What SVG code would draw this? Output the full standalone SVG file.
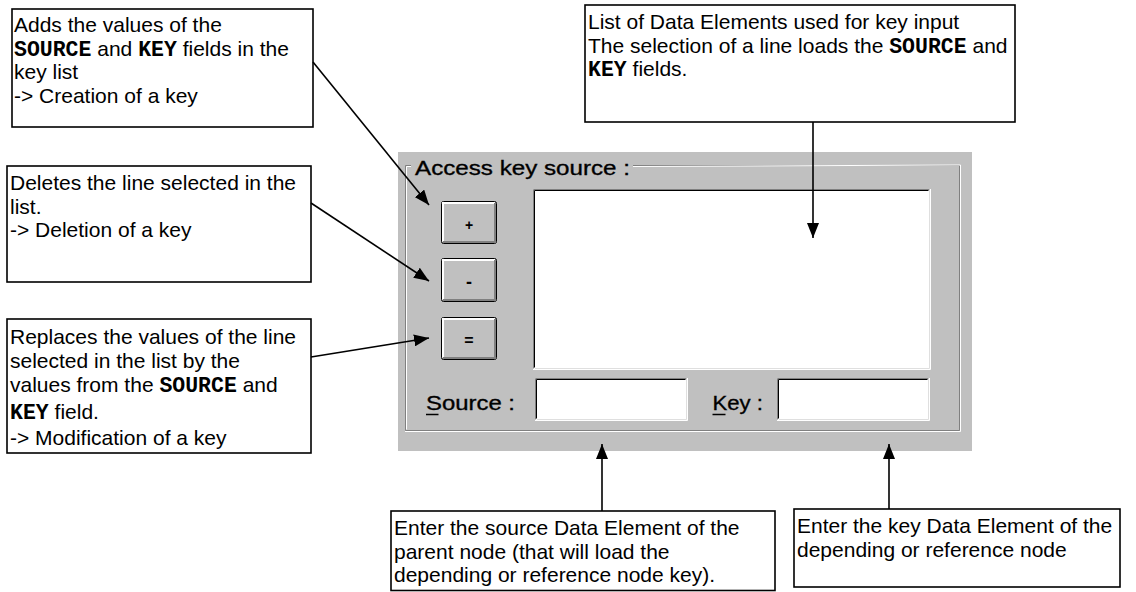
<svg xmlns="http://www.w3.org/2000/svg" width="1136" height="592" viewBox="0 0 1136 592">
  <style>
    .box { fill: #ffffff; stroke: #000000; stroke-width: 1.6; }
    .t { font-family: "Liberation Sans", Arial, sans-serif; font-size: 21px; fill: #000000; }
    .m { font-family: "Liberation Mono", "Courier New", monospace; font-weight: bold; font-size: 21.5px; }
    .ui { font-family: "Liberation Sans", Arial, sans-serif; font-size: 21px; fill: #000000; stroke: #000000; stroke-width: 0.35; }
    .btn-label { font-family: "Liberation Sans", Arial, sans-serif; font-weight: bold; fill: #000000; text-anchor: middle; }
    .conn { stroke: #000000; stroke-width: 1.6; fill: none; marker-end: url(#arrow); }
    .dk { stroke: #808080; fill: none; }
    .bk { stroke: #000000; fill: none; }
    .wt { stroke: #ffffff; fill: none; }
    .lt { stroke: #dfdfdf; fill: none; }
  </style>
  <defs>
    <marker id="arrow" markerUnits="userSpaceOnUse" markerWidth="16" markerHeight="12" refX="15" refY="6" orient="auto">
      <path d="M0,0 L15,6 L0,12 z" fill="#000000"/>
    </marker>
  </defs>

  <rect width="1136" height="592" fill="#ffffff"/>

  <!-- Dialog panel -->
  <g id="panel">
    <rect x="398" y="152" width="574" height="299" fill="#c0c0c0"/>
    <!-- etched group frame, broken under the caption -->
    <polyline class="dk" points="411,165.5 405.5,165.5 405.5,430.5 959.5,430.5 959.5,165.5 633,165.5"/>
    <polyline class="wt" points="411,166.5 406.5,166.5 406.5,429.5"/>
    <polyline class="wt" points="405,431.5 960.5,431.5 960.5,165 633,166.5"/>
    <text class="ui" x="415" y="175" textLength="215" lengthAdjust="spacingAndGlyphs">Access key source :</text>

    <!-- list box -->
    <g id="listbox">
      <rect x="533" y="189" width="397" height="180" fill="#ffffff"/>
      <polyline class="dk" points="533.5,368.5 533.5,189.5 929.5,189.5"/>
      <polyline class="bk" points="534.5,367.5 534.5,190.5 928.5,190.5"/>
      <polyline class="wt" points="533,369.5 930.5,369.5 930.5,189"/>
      <polyline class="lt" points="535,368.5 929.5,368.5 929.5,190"/>
    </g>

    <!-- buttons -->
    <g id="btn-add">
      <rect x="441.5" y="201.5" width="55" height="42" rx="2" fill="#c0c0c0" stroke="#000000"/>
      <polyline points="443,241.5 443,203 495,203" stroke="#ffffff" stroke-width="2" fill="none"/>
      <polyline points="443,242 495,242 495,203" stroke="#808080" stroke-width="2" fill="none"/>
      <text class="btn-label" x="469" y="229.5" font-size="14">+</text>
    </g>
    <g id="btn-del">
      <rect x="441.5" y="258.5" width="55" height="43" rx="2" fill="#c0c0c0" stroke="#000000"/>
      <polyline points="443,299.5 443,260 495,260" stroke="#ffffff" stroke-width="2" fill="none"/>
      <polyline points="443,300 495,300 495,260" stroke="#808080" stroke-width="2" fill="none"/>
      <text class="btn-label" x="469" y="288" font-size="18">-</text>
    </g>
    <g id="btn-mod">
      <rect x="441.5" y="317.5" width="55" height="42" rx="2" fill="#c0c0c0" stroke="#000000"/>
      <polyline points="443,357.5 443,319 495,319" stroke="#ffffff" stroke-width="2" fill="none"/>
      <polyline points="443,358 495,358 495,319" stroke="#808080" stroke-width="2" fill="none"/>
      <text class="btn-label" x="469" y="345.5" font-size="16">=</text>
    </g>

    <!-- Source field -->
    <g id="source-field">
      <text class="ui" x="426" y="410" textLength="89" lengthAdjust="spacingAndGlyphs">Source :</text>
      <line x1="426" y1="414.5" x2="438.5" y2="414.5" stroke="#000000" stroke-width="1.5"/>
      <rect x="535" y="378" width="152" height="42" fill="#ffffff"/>
      <polyline class="dk" points="535.5,419.5 535.5,378.5 686.5,378.5"/>
      <polyline class="bk" points="536.5,418.5 536.5,379.5 685.5,379.5"/>
      <polyline class="wt" points="535,420.5 687.5,420.5 687.5,378"/>
      <polyline class="lt" points="537,419.5 686.5,419.5 686.5,379"/>
    </g>

    <!-- Key field -->
    <g id="key-field">
      <text class="ui" x="712.5" y="410" textLength="50.5" lengthAdjust="spacingAndGlyphs">Key :</text>
      <line x1="712.5" y1="414.5" x2="725.5" y2="414.5" stroke="#000000" stroke-width="1.5"/>
      <rect x="777" y="378" width="152" height="42" fill="#ffffff"/>
      <polyline class="dk" points="777.5,419.5 777.5,378.5 928.5,378.5"/>
      <polyline class="bk" points="778.5,418.5 778.5,379.5 927.5,379.5"/>
      <polyline class="wt" points="777,420.5 929.5,420.5 929.5,378"/>
      <polyline class="lt" points="779,419.5 928.5,419.5 928.5,379"/>
    </g>
  </g>

  <!-- Callout notes -->
  <g id="note-add">
    <rect class="box" x="12" y="9" width="301" height="118"/>
    <text class="t" x="14" y="31.5">Adds the values of the</text>
    <text class="t" x="14" y="55.5"><tspan class="m">SOURCE</tspan> and <tspan class="m">KEY</tspan> fields in the</text>
    <text class="t" x="14" y="79">key list</text>
    <text class="t" x="14" y="102.5">-&gt; Creation of a key</text>
  </g>

  <g id="note-delete">
    <rect class="box" x="7" y="166" width="304" height="116"/>
    <text class="t" x="10" y="190">Deletes the line selected in the</text>
    <text class="t" x="10" y="213.5">list.</text>
    <text class="t" x="10" y="237">-&gt; Deletion of a key</text>
  </g>

  <g id="note-modify">
    <rect class="box" x="7" y="319" width="304" height="134"/>
    <text class="t" x="10" y="343.5">Replaces the values of the line</text>
    <text class="t" x="10" y="367.5">selected in the list by the</text>
    <text class="t" x="10" y="391.5">values from the <tspan class="m">SOURCE</tspan> and</text>
    <text class="t" x="10" y="419"><tspan class="m">KEY</tspan> field.</text>
    <text class="t" x="10" y="445">-&gt; Modification of a key</text>
  </g>

  <g id="note-list">
    <rect class="box" x="585" y="5" width="430" height="117"/>
    <text class="t" x="588" y="29">List of Data Elements used for key input</text>
    <text class="t" x="588" y="52.5">The selection of a line loads the <tspan class="m">SOURCE</tspan> and</text>
    <text class="t" x="588" y="76"><tspan class="m">KEY</tspan> fields.</text>
  </g>

  <g id="note-source">
    <rect class="box" x="391" y="511" width="384" height="79.5"/>
    <text class="t" x="394" y="535">Enter the source Data Element of the</text>
    <text class="t" x="394" y="558.5">parent node (that will load the</text>
    <text class="t" x="394" y="582">depending or reference node key).</text>
  </g>

  <g id="note-key">
    <rect class="box" x="794" y="509" width="326" height="78"/>
    <text class="t" x="797" y="533">Enter the key Data Element of the</text>
    <text class="t" x="797" y="556.5">depending or reference node</text>
  </g>

  <!-- Connectors -->
  <g id="connectors">
    <line class="conn" x1="313" y1="62" x2="429" y2="205"/>
    <line class="conn" x1="311" y1="203" x2="429" y2="281"/>
    <line class="conn" x1="311" y1="357" x2="429" y2="338"/>
    <line class="conn" x1="813" y1="122" x2="813" y2="238"/>
    <line class="conn" x1="602" y1="511" x2="602" y2="444"/>
    <line class="conn" x1="889" y1="509" x2="889" y2="444"/>
  </g>
</svg>
